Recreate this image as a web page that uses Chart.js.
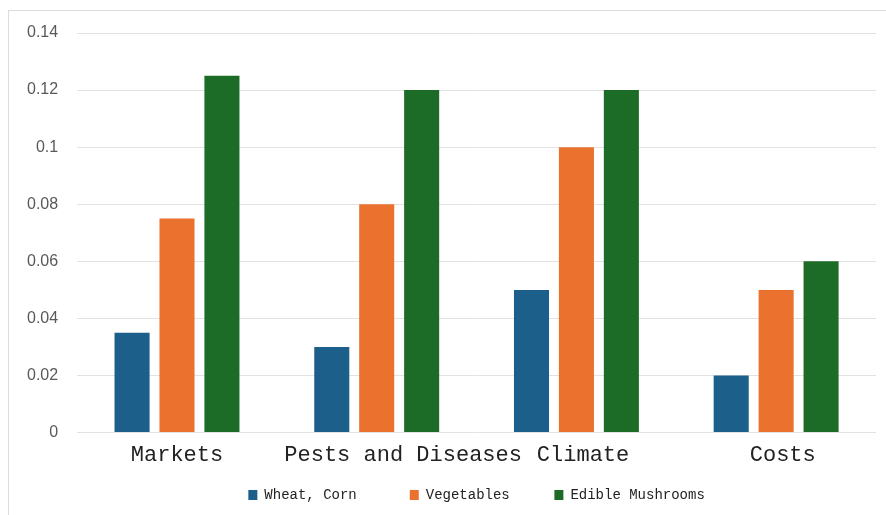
<!DOCTYPE html>
<html>
<head>
<meta charset="utf-8">
<script src="https://cdn.jsdelivr.net/npm/chart.js@4.4.0/dist/chart.umd.min.js"></script>
<style>
  html, body { margin: 0; padding: 0; background: #ffffff; overflow: hidden; }
  #wrap { position: relative; width: 886px; height: 515px; }
  #frame { position: absolute; left: 8px; top: 10px; width: 900px; height: 520px;
           border: 1px solid #dcdcdc; box-sizing: border-box; }
  #c { position: absolute; left: 0; top: 0; }
</style>
</head>
<body>
<div id="wrap">
  <div id="frame"></div>
  <canvas id="c" width="886" height="515"></canvas>
</div>
<script>
// Risk factor categories and the weight of each crop group
const categories = ['Markets', '    Pests and Diseases', ' Climate', ' Costs'];
const wheatCorn  = [0.035, 0.03, 0.05, 0.02];
const vegetables = [0.075, 0.08, 0.10, 0.05];
const mushrooms  = [0.125, 0.12, 0.12, 0.06];
const yTicks     = [0, 0.02, 0.04, 0.06, 0.08, 0.10, 0.12, 0.14];
const seriesNames = ['Wheat, Corn     ', 'Vegetables    ', 'Edible Mushrooms'];

const monoFont = "'Liberation Mono', 'DejaVu Sans Mono', monospace";

new Chart(document.getElementById('c'), {
  type: 'bar',
  data: {
    labels: categories,
    datasets: [
      { label: seriesNames[0], data: wheatCorn, backgroundColor: '#1c5f8a' },
      { label: seriesNames[1], data: vegetables, backgroundColor: '#ea712e' },
      { label: seriesNames[2], data: mushrooms, backgroundColor: '#1c6b27' }
    ]
  },
  options: {
    responsive: false,
    animation: false,
    devicePixelRatio: 1,
    layout: { padding: { left: 8, right: 10, top: 33, bottom: 3 } },
    datasets: { bar: { categoryPercentage: 0.675, barPercentage: 0.78 } },
    scales: {
      x: {
        grid: { display: false, drawTicks: false },
        border: { display: false },
        ticks: {
          autoSkip: false, maxRotation: 0, minRotation: 0, padding: 9,
          color: '#222222',
          font: { family: monoFont, size: 22 }
        }
      },
      y: {
        min: 0, max: 0.14,
        afterBuildTicks: (scale) => { scale.ticks = yTicks.map(v => ({ value: v })); },
        grid: { color: '#e2e2e2', lineWidth: 1, drawTicks: false },
        border: { display: false },
        ticks: {
          padding: 19,
          color: '#595959',
          font: { family: "'Liberation Sans', Arial, sans-serif", size: 16 },
          callback: (v) => String(+Number(v).toFixed(2))
        }
      }
    },
    plugins: {
      tooltip: { enabled: false },
      legend: {
        position: 'bottom',
        fullSize: false,
        labels: {
          boxWidth: 9, boxHeight: 10, padding: 11,
          color: '#222222',
          font: { family: monoFont, size: 14 }
        }
      }
    }
  }
});
</script>
</body>
</html>
